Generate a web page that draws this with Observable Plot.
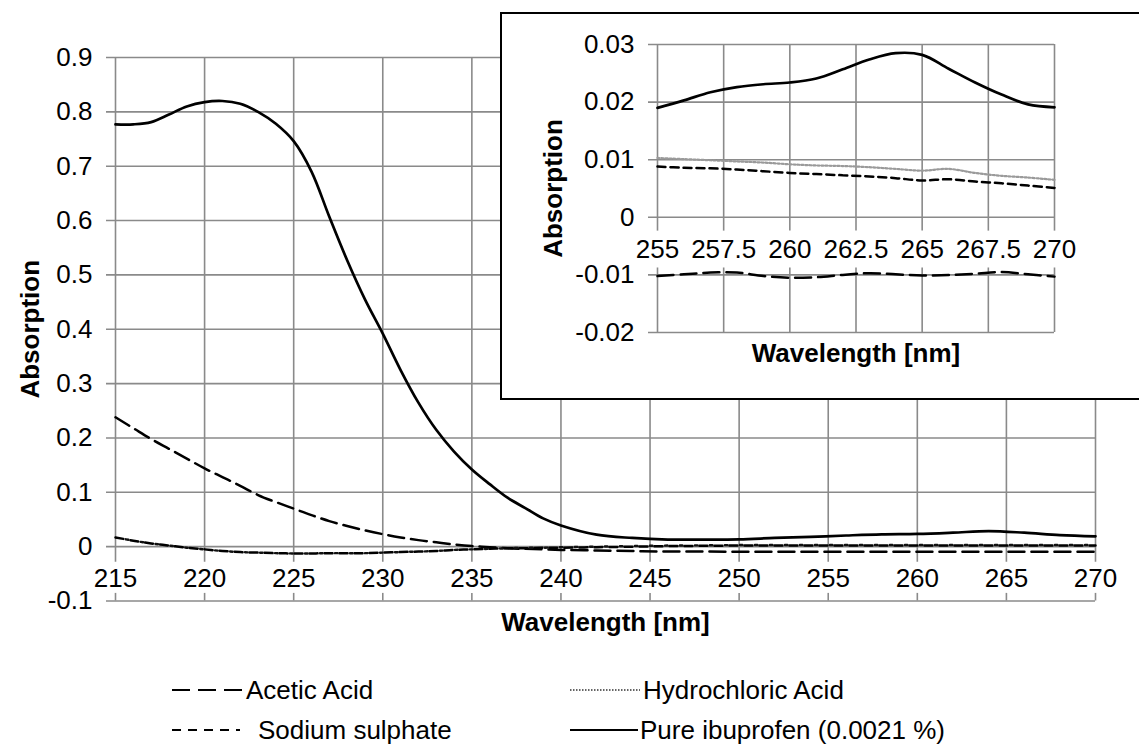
<!DOCTYPE html>
<html>
<head>
<meta charset="utf-8">
<script src="https://cdn.jsdelivr.net/npm/d3@7"></script>
<script src="https://cdn.jsdelivr.net/npm/@observablehq/plot@0.6"></script>
<style>
  html, body { margin: 0; padding: 0; background: #fff; }
  body { width: 1139px; height: 749px; overflow: hidden; position: relative;
         font-family: Arial, "Liberation Sans", sans-serif; }
  #main { position: absolute; left: 0; top: 0; }
  #inset { position: absolute; left: 500px; top: 12px; width: 700px; height: 384px;
           border: 2px solid #000; background: #fff; overflow: hidden; }
  #legend { position: absolute; left: 0; top: 660px; }
</style>
</head>
<body>
<div id="main"></div>
<div id="inset"></div>
<div id="legend"></div>
<script>
// ---------- Main chart data ----------
const wavelengthMain = [215,216,217,218,219,220,221,222,223,224,225,226,227,228,229,230,231,232,233,234,235,236,237,238,239,240,242,244,246,248,250,252,254,256,258,260,262,264,266,268,270];
const ibuprofenMain  = [0.777,0.777,0.781,0.795,0.810,0.818,0.820,0.815,0.800,0.778,0.746,0.690,0.607,0.527,0.455,0.392,0.325,0.265,0.215,0.175,0.142,0.115,0.090,0.071,0.052,0.039,0.022,0.016,0.013,0.013,0.0135,0.016,0.018,0.0205,0.0226,0.0234,0.0257,0.0286,0.0257,0.0213,0.019];
const aceticMain     = [0.238,0.218,0.198,0.180,0.162,0.144,0.128,0.112,0.095,0.082,0.070,0.058,0.047,0.038,0.030,0.023,0.017,0.012,0.008,0.004,0.001,-0.001,-0.003,-0.004,-0.005,-0.006,-0.007,-0.008,-0.009,-0.009,-0.0095,-0.0095,-0.0095,-0.0095,-0.0095,-0.0095,-0.0095,-0.0095,-0.0095,-0.0095,-0.0095];
const sodiumMain     = [0.017,0.011,0.006,0.002,-0.002,-0.005,-0.008,-0.010,-0.011,-0.012,-0.0125,-0.0125,-0.012,-0.012,-0.012,-0.011,-0.010,-0.009,-0.008,-0.006,-0.005,-0.004,-0.003,-0.003,-0.002,-0.002,-0.001,0.000,0.001,0.0015,0.002,0.002,0.002,0.002,0.002,0.002,0.002,0.002,0.002,0.002,0.002];
const hclMain        = [0.017,0.011,0.006,0.002,-0.002,-0.005,-0.008,-0.010,-0.011,-0.012,-0.0125,-0.0125,-0.012,-0.012,-0.012,-0.011,-0.010,-0.009,-0.008,-0.006,-0.005,-0.004,-0.003,-0.002,-0.002,-0.001,0.000,0.001,0.002,0.0025,0.003,0.003,0.003,0.003,0.003,0.003,0.003,0.003,0.003,0.003,0.003];
const xTicksMain = [215,220,225,230,235,240,245,250,255,260,265,270];
const yTicksMain = [-0.1,0,0.1,0.2,0.3,0.4,0.5,0.6,0.7,0.8,0.9];

// ---------- Inset data ----------
const wavelengthInset = [255,256,257,258,259,260,261,262,263,264,265,266,267,268,269,270];
const ibuprofenInset  = [0.0190,0.0203,0.0217,0.0226,0.0231,0.0234,0.0241,0.0257,0.0274,0.0285,0.0282,0.0258,0.0234,0.0213,0.0196,0.0191];
const hclInset        = [0.0103,0.0101,0.0099,0.0097,0.0095,0.0092,0.0090,0.0089,0.0087,0.0084,0.0081,0.0084,0.0077,0.0072,0.0069,0.0065];
const sodiumInset     = [0.0088,0.0086,0.0085,0.0083,0.0080,0.0077,0.0075,0.0073,0.0071,0.0068,0.0064,0.0066,0.0062,0.0059,0.0055,0.0051];
const aceticInset     = [-0.0102,-0.0099,-0.0096,-0.0096,-0.0102,-0.0105,-0.0104,-0.0100,-0.0097,-0.0099,-0.0101,-0.0100,-0.0098,-0.0095,-0.0099,-0.0103];
const xTicksInset = [255,257.5,260,262.5,265,267.5,270];
const yTicksInset = [-0.02,-0.01,0,0.01,0.02,0.03];

const seriesNames = ["Acetic Acid","Hydrochloric Acid","Sodium sulphate","Pure ibuprofen (0.0021 %)"];

const FONT = 'Arial, "Liberation Sans", sans-serif';
const GRID = "#8a8a8a";
const FS = 26;

function rows(xs, ys) { return xs.map((x, i) => ({x, y: ys[i]})); }

const styles = {
  acetic:     {stroke: "#000", strokeWidth: 2.5, strokeDasharray: "16,7"},
  hclMain:    {stroke: "#111", strokeWidth: 2.4, strokeDasharray: "2.5,12.5", strokeDashoffset: -10.5},
  sodiumMain: {stroke: "#000", strokeWidth: 2.5, strokeDasharray: "8,7"},
  hclInset:   {stroke: "#9a9a9a", strokeWidth: 2.2, strokeDasharray: "2,2"},
  sodium:     {stroke: "#000", strokeWidth: 2.5, strokeDasharray: "8,5"},
  ibuprofen:  {stroke: "#000", strokeWidth: 2.7}
};

// ---------- Main chart ----------
const main = Plot.plot({
  width: 1139, height: 650,
  marginLeft: 115, marginRight: 44, marginTop: 57, marginBottom: 49.5,
  x: {domain: [215, 270]},
  y: {domain: [-0.1, 0.9]},
  style: {fontFamily: FONT, fontSize: FS + "px", background: "#fff", color: "#000"},
  marks: [
    Plot.ruleX(xTicksMain, {x: d => d, y1: 0.9, y2: -0.0285, stroke: GRID, strokeWidth: 1.6}),
    Plot.ruleX(xTicksMain, {x: d => d, y1: -0.086, y2: -0.1, stroke: GRID, strokeWidth: 1.6}),
    Plot.ruleY(yTicksMain, {y: d => d, x1: 215, x2: 270, insetLeft: -9, stroke: GRID, strokeWidth: 1.6}),
    Plot.axisY({ticks: yTicksMain, tickSize: 0, tickPadding: 23, tickFormat: d => String(d), fontSize: FS, label: null}),
    Plot.axisX({ticks: [], label: null}),
    Plot.text(xTicksMain, {x: d => d, y: -0.058, text: d => String(d), fontSize: FS, lineAnchor: "middle"}),
    Plot.line(rows(wavelengthMain, aceticMain), {x: "x", y: "y", curve: "catmull-rom", ...styles.acetic}),
    Plot.line(rows(wavelengthMain, sodiumMain), {x: "x", y: "y", curve: "catmull-rom", ...styles.sodiumMain}),
    Plot.line(rows(wavelengthMain, hclMain), {x: "x", y: "y", curve: "catmull-rom", ...styles.hclMain}),
    Plot.line(rows(wavelengthMain, ibuprofenMain), {x: "x", y: "y", curve: "catmull-rom", ...styles.ibuprofen}),
    Plot.text(["Wavelength [nm]"], {text: d => d, frameAnchor: "bottom", dy: 22, fontWeight: "bold", fontSize: FS, lineAnchor: "middle", textAnchor: "middle"}),
    Plot.text(["Absorption"], {text: d => d, frameAnchor: "left", dx: -85, rotate: -90, fontWeight: "bold", fontSize: FS, lineAnchor: "middle", textAnchor: "middle"})
  ]
});
document.getElementById("main").appendChild(main);

// ---------- Inset chart ----------
const inset = Plot.plot({
  width: 700, height: 384,
  marginLeft: 155, marginRight: 148, marginTop: 30, marginBottom: 66,
  x: {domain: [255, 270]},
  y: {domain: [-0.02, 0.03]},
  style: {fontFamily: FONT, fontSize: FS + "px", background: "#fff", color: "#000"},
  marks: [
    Plot.ruleX(xTicksInset, {x: d => d, y1: 0.03, y2: -0.0024, stroke: GRID, strokeWidth: 1.6}),
    Plot.ruleX(xTicksInset, {x: d => d, y1: -0.0088, y2: -0.02, stroke: GRID, strokeWidth: 1.6}),
    Plot.ruleY(yTicksInset, {y: d => d, x1: 255, x2: 270, insetLeft: -9, stroke: GRID, strokeWidth: 1.6}),
    Plot.axisY({ticks: yTicksInset, tickSize: 0, tickPadding: 23, tickFormat: d => String(d), fontSize: FS, label: null}),
    Plot.axisX({ticks: [], label: null}),
    Plot.text(xTicksInset, {x: d => d, y: -0.0056, text: d => String(d), fontSize: FS, lineAnchor: "middle"}),
    Plot.line(rows(wavelengthInset, hclInset), {x: "x", y: "y", curve: "catmull-rom", ...styles.hclInset}),
    Plot.line(rows(wavelengthInset, sodiumInset), {x: "x", y: "y", curve: "catmull-rom", ...styles.sodium}),
    Plot.line(rows(wavelengthInset, aceticInset), {x: "x", y: "y", curve: "catmull-rom", ...styles.acetic}),
    Plot.line(rows(wavelengthInset, ibuprofenInset), {x: "x", y: "y", curve: "catmull-rom", ...styles.ibuprofen}),
    Plot.text(["Wavelength [nm]"], {text: d => d, frameAnchor: "bottom", dy: 21, fontWeight: "bold", fontSize: FS, lineAnchor: "middle", textAnchor: "middle"}),
    Plot.text(["Absorption"], {text: d => d, frameAnchor: "left", dx: -104, rotate: -90, fontWeight: "bold", fontSize: FS, lineAnchor: "middle", textAnchor: "middle"})
  ]
});
document.getElementById("inset").appendChild(inset);

// ---------- Legend ----------
const legendItems = [
  {name: seriesNames[0], stroke: "#000", width: 2.2, dash: "18,8",  x1: 172, x2: 244, tx: 246, y: 30},
  {name: seriesNames[1], stroke: "#333", width: 1.6, dash: "1.5,1.5", x1: 570, x2: 640, tx: 643, y: 30},
  {name: seriesNames[2], stroke: "#000", width: 2.2, dash: "9,7",   x1: 172, x2: 240, tx: 258, y: 70},
  {name: seriesNames[3], stroke: "#000", width: 2.2, dash: null,    x1: 570, x2: 638, tx: 640, y: 70}
];
const ns = "http://www.w3.org/2000/svg";
const lsvg = document.createElementNS(ns, "svg");
lsvg.setAttribute("width", 1139);
lsvg.setAttribute("height", 89);
lsvg.style.fontFamily = FONT;
for (const it of legendItems) {
  const l = document.createElementNS(ns, "line");
  l.setAttribute("x1", it.x1); l.setAttribute("x2", it.x2);
  l.setAttribute("y1", it.y); l.setAttribute("y2", it.y);
  l.setAttribute("stroke", it.stroke);
  l.setAttribute("stroke-width", it.width);
  if (it.dash) l.setAttribute("stroke-dasharray", it.dash);
  lsvg.appendChild(l);
  const t = document.createElementNS(ns, "text");
  t.setAttribute("x", it.tx); t.setAttribute("y", it.y);
  t.setAttribute("dy", "0.35em");
  t.setAttribute("font-size", FS);
  t.textContent = it.name;
  lsvg.appendChild(t);
}
document.getElementById("legend").appendChild(lsvg);
</script>
</body>
</html>
